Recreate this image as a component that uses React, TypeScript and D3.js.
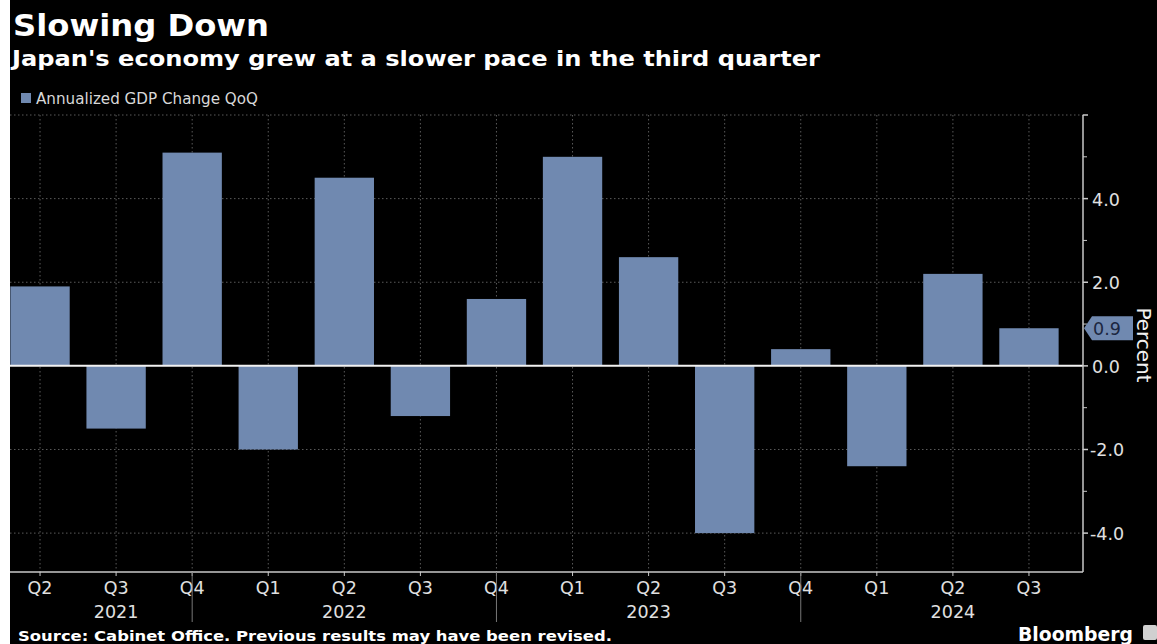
import React from 'react';
import * as d3 from 'd3';

const quarters = ['Q2', 'Q3', 'Q4', 'Q1', 'Q2', 'Q3', 'Q4', 'Q1', 'Q2', 'Q3', 'Q4', 'Q1', 'Q2', 'Q3'];
const quarterYears = ['2021', '2021', '2021', '2022', '2022', '2022', '2022', '2023', '2023', '2023', '2023', '2024', '2024', '2024'];
const gdpChange = [1.9, -1.5, 5.1, -2.0, 4.5, -1.2, 1.6, 5.0, 2.6, -4.0, 0.4, -2.4, 2.2, 0.9];

const yearLabels = ['2021', '2022', '2023', '2024'];
const yearLabelAt = ['2021 Q3', '2022 Q2', '2023 Q2', '2024 Q2'];
const yearSeparators = ['2021 Q4', '2022 Q4', '2023 Q4'];

const majorTicks = [4, 2, 0, -2, -4];
const minorTicks = [5, 3, 1, -1, -3];
const gridTicks = [6, 4, 2, -2, -4];

const W = 1157;
const H = 644;
const BAR = '#7089b0';
const AXIS = '#c8c8c8';
const GRID = '#5a5a5a';
const FONT = '"DejaVu Sans", Verdana, sans-serif';

const keys = quarters.map((q, i) => `${quarterYears[i]} ${q}`);

// plain hyphen for negatives, like the original
const fmt = d3.formatLocale({
  decimal: '.', thousands: ',', grouping: [3], currency: ['', ''], minus: '-',
}).format('.1f');

const App: React.FC = () => {
  const plotLeft = 10;
  const axisX = 1083;
  const plotTop = 115;
  const plotBottom = 572;

  const x = d3.scaleBand<string>()
    .domain(keys)
    .range([2, 1067])
    .paddingInner(0.22)
    .paddingOuter(0.11);

  const y = d3.scaleLinear()
    .domain([-4.93, 6.0])
    .range([plotBottom, plotTop]);

  const center = (k: string) => (x(k) || 0) + x.bandwidth() / 2;
  const last = gdpChange[gdpChange.length - 1];
  const lastY = y(last);

  return (
    <div style={{ position: 'absolute', left: 0, top: 0 }}>
      <svg width={W} height={H} style={{ display: 'block' }}>
        <rect x={0} y={0} width={W} height={H} fill="#ffffff" />
        <rect x={plotLeft} y={0} width={W - plotLeft} height={H} fill="#000000" />

        <text x={13} y={36} fill="#ffffff" fontFamily={FONT} fontWeight="bold" fontSize={30}
          textLength={256} lengthAdjust="spacingAndGlyphs">
          Slowing Down
        </text>
        <text x={12} y={66} fill="#ffffff" fontFamily={FONT} fontWeight="bold" fontSize={21}
          textLength={808} lengthAdjust="spacingAndGlyphs">
          Japan's economy grew at a slower pace in the third quarter
        </text>

        <rect x={21} y={93} width={10} height={10} fill={BAR} />
        <text x={36} y={104} fill="#d8d8d8" fontFamily={FONT} fontSize={15}
          textLength={222} lengthAdjust="spacingAndGlyphs">
          Annualized GDP Change QoQ
        </text>

        <clipPath id="plotClip">
          <rect x={plotLeft} y={0} width={axisX - plotLeft} height={H} />
        </clipPath>

        <g clipPath="url(#plotClip)">
          {gridTicks.map(t => (
            <line key={`hg${t}`} x1={plotLeft} x2={axisX} y1={y(t)} y2={y(t)}
              stroke={GRID} strokeWidth={1} strokeDasharray="1.5,2.5" />
          ))}
          {keys.map(k => (
            <line key={`vg${k}`} x1={center(k)} x2={center(k)} y1={plotTop} y2={plotBottom}
              stroke={GRID} strokeWidth={1} strokeDasharray="1.5,2.5" />
          ))}
          {keys.map((k, i) => (
            <rect key={`b${k}`} x={x(k)} width={x.bandwidth()}
              y={y(Math.max(0, gdpChange[i]))}
              height={Math.abs(y(gdpChange[i]) - y(0))}
              fill={BAR} />
          ))}
          <line x1={plotLeft} x2={axisX} y1={y(0)} y2={y(0)} stroke="#f2f2f2" strokeWidth={2} />
        </g>

        {/* bottom axis */}
        <line x1={plotLeft} x2={axisX} y1={plotBottom} y2={plotBottom} stroke={AXIS} strokeWidth={1.5} />
        {keys.map((k, i) => (
          <g key={`xt${k}`}>
            <line x1={center(k)} x2={center(k)} y1={plotBottom} y2={plotBottom + 4} stroke={AXIS} />
            <text x={center(k)} y={594} textAnchor="middle" fill="#e0e0e0"
              fontFamily={FONT} fontSize={17.5}>{quarters[i]}</text>
          </g>
        ))}
        {yearSeparators.map(k => (
          <line key={`ys${k}`} x1={center(k)} x2={center(k)} y1={plotBottom} y2={622}
            stroke="#777777" strokeWidth={1} />
        ))}
        {yearLabels.map((yr, i) => (
          <text key={`yl${yr}`} x={center(yearLabelAt[i])} y={618} textAnchor="middle" fill="#e0e0e0"
            fontFamily={FONT} fontSize={17.5}>{yr}</text>
        ))}

        {/* right axis */}
        <line x1={axisX} x2={axisX} y1={plotTop} y2={plotBottom} stroke={AXIS} strokeWidth={1.5} />
        <line x1={axisX} x2={axisX + 5} y1={plotTop} y2={plotTop} stroke={AXIS} strokeWidth={1.5} />
        {minorTicks.map(t => (
          <line key={`mt${t}`} x1={axisX} x2={axisX + 4} y1={y(t)} y2={y(t)} stroke={AXIS} strokeWidth={1} />
        ))}
        {majorTicks.map(t => (
          <g key={`yt${t}`}>
            <line x1={axisX} x2={axisX + 5} y1={y(t)} y2={y(t)} stroke={AXIS} strokeWidth={1.5} />
            <text x={axisX + (t < 0 ? 7 : 9)} y={y(t) + 7} fill="#e0e0e0" fontFamily={FONT} fontSize={17.5}>
              {fmt(t)}
            </text>
          </g>
        ))}

        {/* last value callout */}
        <path
          d={`M${axisX + 1},${lastY} L${axisX + 9},${lastY - 12} L${axisX + 50},${lastY - 12} L${axisX + 50},${lastY + 12} L${axisX + 9},${lastY + 12} Z`}
          fill={BAR} />
        <text x={axisX + 24} y={lastY + 6.5} textAnchor="middle" fill="#1c2740"
          fontFamily={FONT} fontSize={17.5}>{fmt(last)}</text>

        <text transform={`translate(1137,345) rotate(90)`} textAnchor="middle" fill="#f0f0f0"
          fontFamily={FONT} fontSize={20}>Percent</text>

        {/* footer */}
        <text x={18} y={641} fill="#ffffff" fontFamily={FONT} fontWeight="bold" fontSize={14.5}
          textLength={594} lengthAdjust="spacingAndGlyphs">
          Source: Cabinet Office. Previous results may have been revised.
        </text>
        <text x={1018} y={641} fill="#ffffff" fontFamily={FONT} fontWeight="bold" fontSize={19}
          textLength={115} lengthAdjust="spacingAndGlyphs">Bloomberg</text>
        <rect x={1143} y={625} width={14} height={15} rx={2} fill="#d0d0d0" />
      </svg>
    </div>
  );
};

export default App;
